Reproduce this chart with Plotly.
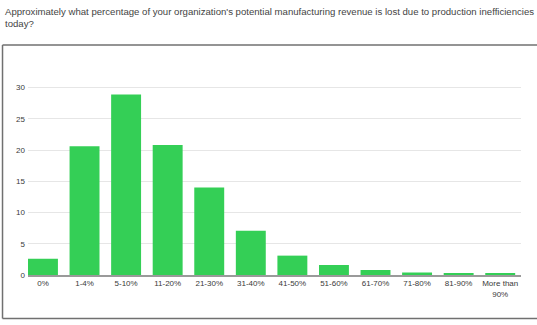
import plotly.graph_objects as go

# Survey answers: share of respondents (%) per revenue-loss bracket
categories = ["0%", "1-4%", "5-10%", "11-20%", "21-30%", "31-40%", "41-50%",
              "51-60%", "61-70%", "71-80%", "81-90%", "More than<br>90%"]
respondents_pct = [2.6, 20.6, 28.9, 20.8, 14.0, 7.1, 3.1, 1.6, 0.8, 0.4, 0.2, 0.2]
y_ticks = [0, 5, 10, 15, 20, 25, 30]

title_text = ("Approximately what percentage of your organization's potential manufacturing "
              "revenue is lost due to production inefficiencies<br>today?")

FONT = "Liberation Sans, Arial, sans-serif"
TEXT = "#3a3a3a"

fig = go.Figure(
    go.Bar(
        x=list(range(len(categories))),
        y=respondents_pct,
        marker=dict(color="#34cf56", line=dict(width=0)),
        hoverinfo="skip",
    )
)

fig.update_layout(
    width=537,
    height=325,
    margin=dict(l=28, r=16, t=85, b=50),
    paper_bgcolor="white",
    plot_bgcolor="white",
    bargap=0.28,
    showlegend=False,
    font=dict(family=FONT, size=8, color=TEXT),
    xaxis=dict(
        range=[-0.36, 11.5],
        tickmode="array",
        tickvals=list(range(len(categories))),
        ticktext=categories,
        showgrid=False,
        showline=True,
        linecolor="#9a9a9a",
        linewidth=1.5,
        ticks="",
        tickfont=dict(family=FONT, size=8, color=TEXT),
        zeroline=False,
        fixedrange=True,
    ),
    yaxis=dict(
        range=[0, 30.4],
        tickmode="array",
        tickvals=y_ticks,
        showgrid=True,
        gridcolor="#e6e6e6",
        gridwidth=1,
        zeroline=False,
        showline=False,
        ticks="",
        ticklabelstandoff=2,
        tickfont=dict(family=FONT, size=8, color=TEXT),
        fixedrange=True,
    ),
    annotations=[
        # Question text above the chart panel
        dict(text=title_text, xref="paper", yref="paper",
             x=-0.0507, y=1.428, xanchor="left", yanchor="top", align="left",
             showarrow=False,
             font=dict(family=FONT, size=9.6, color="#444444")),
    ],
    shapes=[
        # Frame around the chart panel (open on the right edge)
        dict(type="line", xref="paper", yref="paper",
             x0=-0.0517, x1=1.2, y0=1.2105, y1=1.2105,
             line=dict(color="#707070", width=1.5)),
        dict(type="line", xref="paper", yref="paper",
             x0=-0.0517, x1=-0.0517, y0=1.2105, y1=-0.2289,
             line=dict(color="#707070", width=1.5)),
        dict(type="line", xref="paper", yref="paper",
             x0=-0.0517, x1=1.2, y0=-0.2289, y1=-0.2289,
             line=dict(color="#707070", width=1.5)),
    ],
)

fig.write_html("out.html", config={"displayModeBar": False})
